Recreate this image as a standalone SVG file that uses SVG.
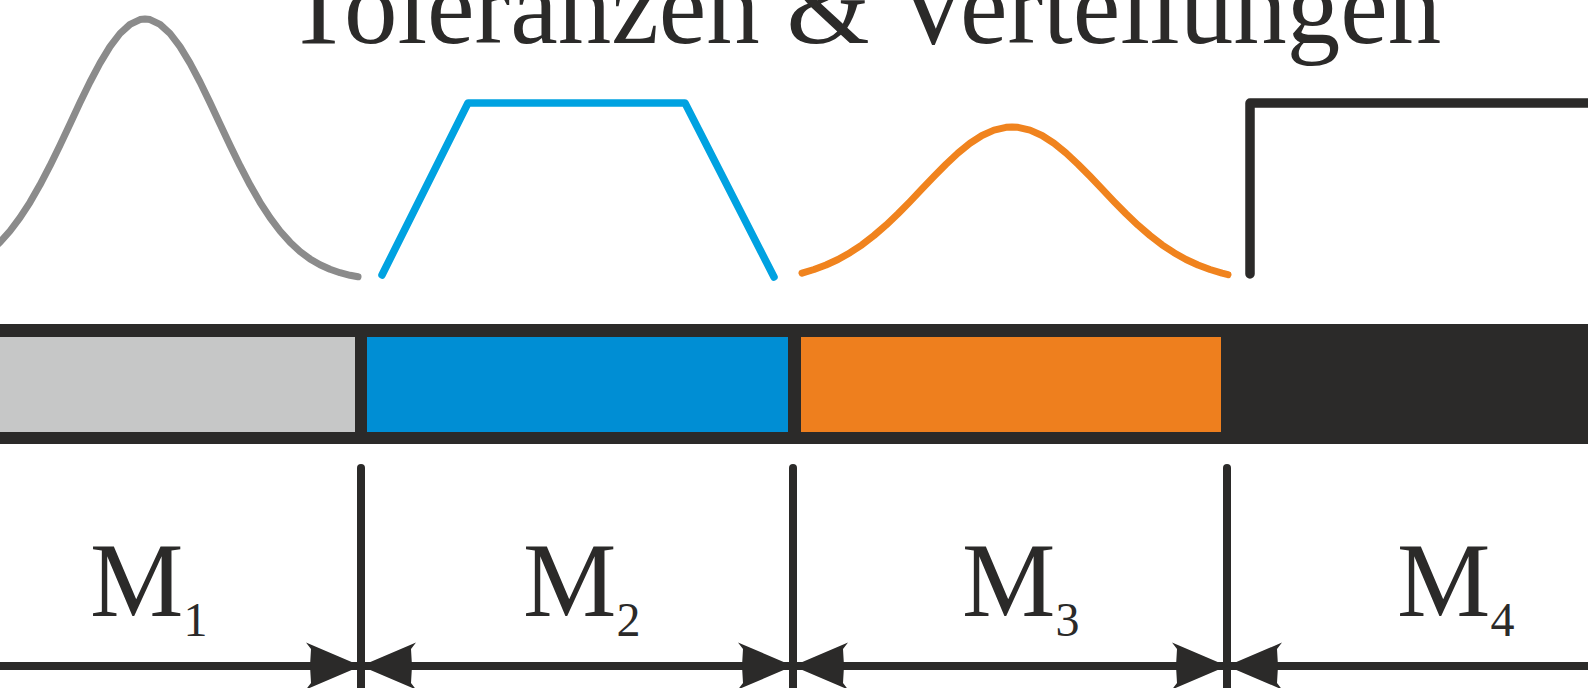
<svg xmlns="http://www.w3.org/2000/svg" width="1588" height="688" viewBox="0 0 1588 688">
<style>
.title{font-family:"Liberation Serif","Times New Roman",serif;font-size:107px;fill:#2B2A29}
.lbl{font-family:"Liberation Serif","Times New Roman",serif;font-size:105px;fill:#2B2A29}
.sub{font-size:48px}
.ext{stroke:#2B2A29;stroke-width:8;stroke-linecap:round;fill:none}
.dim{stroke:#2B2A29;stroke-width:8;fill:none}
.curve{fill:none;stroke-linecap:round;stroke-linejoin:round}
.ah{fill:#2B2A29}
</style>
<defs>
<path id="ah" class="ah" d="M0,0 L-55,-23.5 L-50,-17 L-51,0 L-50,17 L-55,23.5 Z"/>
</defs>
<rect width="1588" height="688" fill="#FFFFFF"/>
<text id="title" class="title" x="286" y="43">Toleranzen &amp; Verteilungen</text>
<g id="bar">
<rect x="-10" y="324" width="1608" height="120" fill="#2B2A29"/>
</g>
<g id="m1">
<rect x="-10" y="337" width="365" height="95" fill="#C6C7C7"/>
<path class="curve" stroke="#8B8B8B" stroke-width="7" d="M-10,251.5 L0,242.2 L10,231 L20,217.7 L30,202.3 L40,184.8 L50,165.7 L60,145.2 L70,123.9 L80,102.6 L90,82 L100,63.1 L110,46.6 L120,33.5 L130,24.3 L140,19.6 L145,19 L150,19.6 L160,24.3 L170,33.5 L180,46.6 L190,63.1 L200,82 L210,102.6 L220,123.9 L230,145.2 L240,165.7 L250,184.8 L260,202.3 L270,217.7 L280,231 L290,242.2 L300,251.5 L310,258.9 L320,264.8 L330,269.3 L340,272.7 L350,275.3 L358,276.8"/>
<text class="lbl" x="90" y="616">M<tspan class="sub" dy="20">1</tspan></text>
</g>
<g id="m2">
<rect x="367" y="337" width="421" height="95" fill="#008ED4"/>
<path class="curve" stroke="#00A2E1" stroke-width="7.5" stroke-linejoin="miter" d="M382,275 L468,103 L685,103 L774,277"/>
<text class="lbl" x="523" y="616">M<tspan class="sub" dy="20">2</tspan></text>
</g>
<g id="m3">
<rect x="801" y="337" width="420" height="95" fill="#EE7F1E"/>
<path class="curve" stroke="#F0831E" stroke-width="7" d="M802,273.1 L814,269.5 L826,265 L838,259.5 L850,252.7 L862,244.8 L874,235.5 L886,225.2 L898,213.8 L910,201.6 L922,188.9 L934,176.3 L946,164.2 L958,153 L970,143.3 L982,135.5 L994,130.1 L1006,127.3 L1012,127 L1018,127.3 L1030,130.1 L1042,135.5 L1054,143.3 L1066,153 L1078,164.2 L1090,176.3 L1102,188.9 L1114,201.6 L1126,213.8 L1138,225.2 L1150,235.5 L1162,244.8 L1174,252.7 L1186,259.5 L1198,265 L1210,269.5 L1222,273.1 L1228,274.6"/>
<text class="lbl" x="962" y="616">M<tspan class="sub" dy="20">3</tspan></text>
</g>
<g id="m4">
<path class="curve" stroke="#2B2A29" stroke-width="9.5" d="M1250,274 L1250,103 L1600,103"/>
<text class="lbl" x="1397" y="616">M<tspan class="sub" dy="20">4</tspan></text>
</g>
<g id="connectors">
<line class="ext" x1="361" y1="468" x2="361" y2="700"/>
<line class="ext" x1="793" y1="468" x2="793" y2="700"/>
<line class="ext" x1="1227" y1="468" x2="1227" y2="700"/>
<line class="dim" x1="-10" y1="666" x2="1600" y2="666"/>
<use href="#ah" transform="translate(361,666)"/>
<use href="#ah" transform="translate(361,666) scale(-1,1)"/>
<use href="#ah" transform="translate(793,666)"/>
<use href="#ah" transform="translate(793,666) scale(-1,1)"/>
<use href="#ah" transform="translate(1227,666)"/>
<use href="#ah" transform="translate(1227,666) scale(-1,1)"/>
</g>
</svg>
